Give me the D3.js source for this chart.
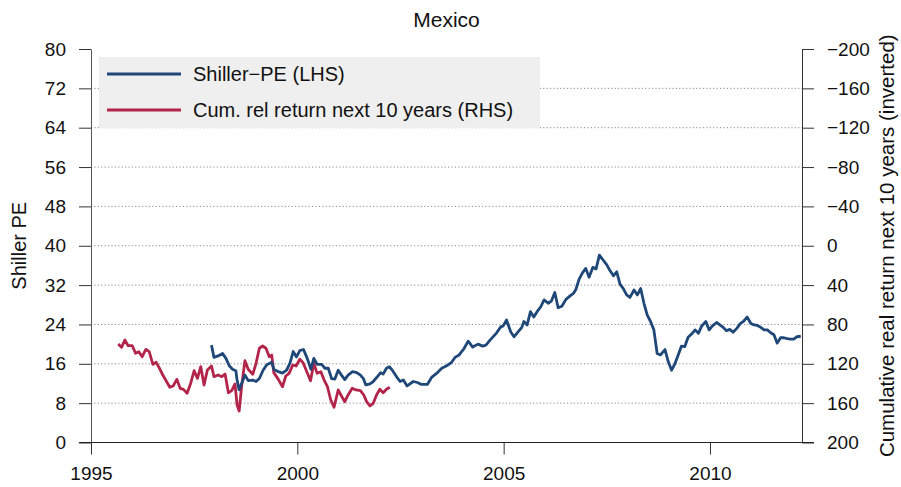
<!DOCTYPE html>
<html>
<head>
<meta charset="utf-8">
<script src="https://cdn.jsdelivr.net/npm/d3@7"></script>
<style>
  body { margin: 0; background: #fff; }
  svg text { font-family: "Liberation Sans", Arial, Helvetica, sans-serif; fill: #111; }
</style>
</head>
<body>
<div id="chart"></div>
<script>
// Shiller PE, monthly-ish readings (decimal year)
const peYears = [1997.92,1997.98,1998.08,1998.19,1998.27,1998.35,1998.43,1998.51,1998.54,1998.59,1998.65,1998.73,1998.81,1998.92,1999.00,1999.08,1999.17,1999.26,1999.38,1999.43,1999.54,1999.64,1999.74,1999.82,1999.90,1999.98,2000.06,2000.15,2000.24,2000.33,2000.40,2000.48,2000.59,2000.67,2000.75,2000.83,2000.91,2000.99,2001.07,2001.15,2001.23,2001.34,2001.44,2001.53,2001.60,2001.66,2001.76,2001.84,2001.94,2002.02,2002.08,2002.16,2002.23,2002.31,2002.41,2002.49,2002.57,2002.66,2002.81,2002.91,2003.01,2003.15,2003.26,2003.38,2003.50,2003.62,2003.74,2003.82,2003.92,2004.04,2004.14,2004.25,2004.38,2004.49,2004.57,2004.67,2004.83,2004.93,2004.99,2005.07,2005.17,2005.25,2005.35,2005.44,2005.49,2005.57,2005.65,2005.73,2005.81,2005.90,2005.98,2006.08,2006.16,2006.24,2006.32,2006.41,2006.51,2006.61,2006.69,2006.75,2006.83,2006.91,2006.99,2007.07,2007.16,2007.24,2007.32,2007.41,2007.50,2007.58,2007.66,2007.74,2007.82,2007.90,2007.98,2008.06,2008.16,2008.24,2008.32,2008.40,2008.48,2008.56,2008.64,2008.72,2008.80,2008.91,2008.99,2009.07,2009.15,2009.23,2009.31,2009.39,2009.47,2009.56,2009.64,2009.72,2009.80,2009.90,2009.98,2010.06,2010.16,2010.24,2010.32,2010.40,2010.48,2010.56,2010.65,2010.74,2010.82,2010.90,2010.99,2011.07,2011.15,2011.23,2011.31,2011.39,2011.47,2011.55,2011.63,2011.71,2011.79,2011.87,2011.95,2012.03,2012.11,2012.20];
const peValues = [19.8,17.3,17.6,18.1,17.1,15.6,14.9,14.6,12.7,10.7,12.0,13.7,12.6,12.7,12.4,13.0,14.7,15.8,16.3,14.9,14.4,14.1,14.7,16.1,18.5,17.4,18.7,18.9,17.1,14.9,17.1,15.9,15.9,15.1,15.1,13.0,12.9,14.7,13.7,12.8,13.7,14.4,14.2,13.7,13.0,11.7,11.9,12.4,13.4,14.2,13.9,15.1,15.4,14.6,13.3,12.4,12.7,11.5,12.4,12.2,11.8,11.8,13.3,14.1,15.1,15.6,16.3,17.3,17.8,19.1,20.6,19.4,20.0,19.6,19.8,20.8,22.3,23.5,23.7,24.9,22.5,21.5,22.5,23.4,24.6,23.9,26.6,25.5,26.6,27.6,29.0,28.3,28.8,30.5,27.4,27.7,29.1,29.8,30.3,31.1,33.2,34.5,35.4,33.6,35.6,35.3,38.1,37.1,36.1,34.9,33.9,34.7,32.2,31.3,30.0,29.5,31.0,30.0,31.3,28.3,25.9,24.6,22.9,18.1,17.8,18.9,16.4,14.7,16.0,17.8,19.6,19.5,21.4,22.1,22.9,22.2,23.7,24.6,22.9,23.7,24.4,23.9,23.4,22.7,23.0,22.4,23.2,24.2,24.7,25.5,24.2,23.9,23.8,23.4,22.9,22.9,22.3,21.9,20.2,21.3,21.3,21.1,21.0,21.0,21.5,21.6];

// cumulative real return over the next 10 years (plotted on inverted RHS)
const retYears = [1995.66,1995.74,1995.82,1995.90,1996.00,1996.08,1996.16,1996.24,1996.33,1996.41,1996.50,1996.58,1996.66,1996.74,1996.82,1996.91,1996.99,1997.08,1997.16,1997.24,1997.33,1997.42,1997.50,1997.58,1997.66,1997.74,1997.82,1997.92,1997.98,1998.08,1998.17,1998.25,1998.33,1998.41,1998.49,1998.54,1998.59,1998.65,1998.73,1998.81,1998.92,1999.00,1999.08,1999.16,1999.24,1999.32,1999.38,1999.43,1999.54,1999.64,1999.72,1999.80,1999.89,1999.97,2000.06,2000.14,2000.23,2000.32,2000.40,2000.48,2000.57,2000.65,2000.73,2000.81,2000.89,2000.99,2001.07,2001.15,2001.23,2001.33,2001.42,2001.53,2001.61,2001.68,2001.76,2001.84,2001.92,2002.00,2002.08,2002.16,2002.24];
const retValues = [99.9,103.3,95.8,101.6,101.6,109.3,107.7,112.8,105.3,107.7,120.5,118.5,124.6,131.4,137.2,143.9,142.6,135.8,144.9,146.0,150.0,139.2,127.0,134.8,122.9,141.6,126.3,122.2,133.1,131.4,133.1,130.4,149.4,147.3,140.5,161.9,168.0,143.3,116.8,125.6,130.7,119.5,104.2,101.9,104.2,112.8,111.1,129.0,135.8,143.3,132.4,129.7,121.2,122.2,115.4,118.9,128.0,137.2,119.5,129.7,128.0,136.5,143.3,156.8,164.2,146.6,152.7,158.5,151.7,144.9,146.6,147.3,151.7,158.5,162.9,160.2,151.7,145.9,149.4,145.9,143.9];

const leftTicks = [0, 8, 16, 24, 32, 40, 48, 56, 64, 72, 80];
const rightTicks = [-200, -160, -120, -80, -40, 0, 40, 80, 120, 160, 200];
const yearTicks = [1995, 2000, 2005, 2010];

const seriesNames = ["Shiller\u2212PE (LHS)", "Cum. rel return next 10 years (RHS)"];
const seriesColors = ["#1f4778", "#b3244a"];

const width = 901, height = 487;
const plot = {left: 91, right: 802, top: 49, bottom: 442.5};

const svg = d3.select("#chart")
  .append("svg")
  .attr("width", width)
  .attr("height", height);

const x = d3.scaleLinear().domain([1995, 2012.23]).range([plot.left, plot.right]);
const yL = d3.scaleLinear().domain([0, 80]).range([plot.bottom, plot.top]);
const yR = d3.scaleLinear().domain([-200, 200]).range([plot.top, plot.bottom]);

// dotted grid
svg.append("g")
  .selectAll("line")
  .data(leftTicks.filter(d => d > 0 && d < 80))
  .enter()
    .append("line")
    .attr("x1", plot.left)
    .attr("x2", plot.right)
    .attr("y1", d => yL(d))
    .attr("y2", d => yL(d))
    .attr("stroke", "#8a8a8a")
    .attr("stroke-width", 1)
    .attr("stroke-dasharray", "1.2,2.2");

// legend box
const legend = svg.append("g");
legend.append("rect")
  .attr("x", 99).attr("y", 57)
  .attr("width", 441).attr("height", 71)
  .attr("fill", "#efefef");

seriesNames.forEach((name, i) => {
  let ly = 74 + i * 36;
  legend.append("line")
    .attr("x1", 107).attr("x2", 181)
    .attr("y1", ly).attr("y2", ly)
    .attr("stroke", seriesColors[i])
    .attr("stroke-width", 2.8);
  legend.append("text")
    .attr("x", 193).attr("y", ly)
    .attr("dy", "0.35em")
    .attr("font-size", "20px")
    .text(name);
});

// axes
let axL = svg.append("g")
  .attr("transform", `translate(${plot.left},0)`)
  .call(d3.axisLeft(yL).tickValues(leftTicks).tickSize(12).tickSizeOuter(0).tickPadding(13));

let axR = svg.append("g")
  .attr("transform", `translate(${plot.right},0)`)
  .call(d3.axisRight(yR).tickValues(rightTicks).tickSize(12).tickSizeOuter(0).tickPadding(13));

let axB = svg.append("g")
  .attr("transform", `translate(0,${plot.bottom})`)
  .call(d3.axisBottom(x).tickValues(yearTicks).tickFormat(d3.format("d")).tickSize(12).tickPadding(12));
axB.select(".domain").remove();

svg.append("line")
  .attr("x1", plot.left - 12).attr("x2", plot.right + 12)
  .attr("y1", plot.bottom).attr("y2", plot.bottom)
  .attr("stroke", "#222");

[axL, axR, axB].forEach(a => {
  a.selectAll("text").attr("font-size", "19px").attr("fill", "#111")
    .style("font-family", '"Liberation Sans", Arial, sans-serif');
  a.selectAll("line").attr("stroke", "#333");
  a.select(".domain").attr("stroke", "#333");
});
axL.select(".domain").attr("stroke", "#555");

// series
const linePE = d3.line()
  .x((d, i) => x(peYears[i]))
  .y(d => yL(d));
const lineRet = d3.line()
  .x((d, i) => x(retYears[i]))
  .y(d => yR(d));

svg.append("path")
  .datum(retValues)
  .attr("fill", "none")
  .attr("stroke", seriesColors[1])
  .attr("stroke-width", 2.8)
  .attr("stroke-linejoin", "round")
  .attr("d", lineRet);

svg.append("path")
  .datum(peValues)
  .attr("fill", "none")
  .attr("stroke", seriesColors[0])
  .attr("stroke-width", 2.8)
  .attr("stroke-linejoin", "round")
  .attr("d", linePE);

// titles
svg.append("text")
  .attr("x", (plot.left + plot.right) / 2)
  .attr("y", 20)
  .attr("dy", "0.35em")
  .attr("text-anchor", "middle")
  .attr("font-size", "21px")
  .text("Mexico");

svg.append("text")
  .attr("transform", `translate(19,${(plot.top + plot.bottom) / 2}) rotate(-90)`)
  .attr("dy", "0.35em")
  .attr("text-anchor", "middle")
  .attr("font-size", "20px")
  .text("Shiller PE");

svg.append("text")
  .attr("transform", `translate(887,${(plot.top + plot.bottom) / 2}) rotate(-90)`)
  .attr("dy", "0.35em")
  .attr("text-anchor", "middle")
  .attr("font-size", "20.5px")
  .text("Cumulative real return next 10 years (inverted)");
</script>
</body>
</html>
